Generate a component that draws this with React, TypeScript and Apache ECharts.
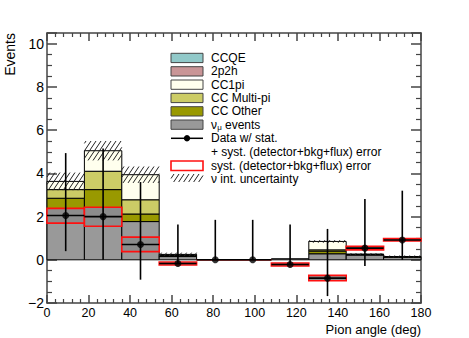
import React, { useEffect, useRef } from 'react';
import * as echarts from 'echarts';

const binEdges = [0, 18, 36, 54, 72, 90, 108, 126, 144, 162, 180];
const binCenters = [9, 27, 45, 63, 81, 99, 117, 135, 153, 171];

// stacked MC components (bottom to top)
const numuEvents = [2.35, 2.4, 1.77, 0.15, 0, 0, 0.05, 0.28, 0.22, 0.12];
const ccOther = [0.5, 0.85, 0.35, 0.04, 0, 0, 0, 0.12, 0.03, 0.02];
const ccMultiPi = [0.4, 0.85, 0.66, 0.03, 0, 0, 0, 0.06, 0.01, 0.01];
const cc1pi = [0.38, 0.95, 1.16, 0.03, 0, 0, 0, 0.39, 0, 0];
const twoP2h = [0, 0, 0, 0, 0, 0, 0, 0, 0, 0];
const ccqe = [0, 0, 0, 0, 0, 0, 0, 0, 0, 0];
const nuIntUnc = [0.41, 0.45, 0.38, 0.08, 0, 0, 0.01, 0.06, 0.05, 0.05];

// data
const dataValues = [2.05, 2.0, 0.71, -0.17, 0, 0, -0.22, -0.85, 0.54, 0.92];
const dataErrHigh = [4.94, 5.15, 3.6, 1.63, 1.85, 1.85, 1.63, 1.43, 2.82, 3.2];
const dataErrLow = [0.4, 0.0, -0.92, -0.17, 0, 0, -0.22, -1.68, -0.29, 0.0];
const systLow = [1.7, 1.55, 0.38, -0.24, 0, 0, -0.29, -0.97, 0.46, 0.87];
const systHigh = [2.38, 2.43, 1.05, -0.1, 0, 0, -0.15, -0.72, 0.62, 0.98];

const legendLabels = [
  'CCQE',
  '2p2h',
  'CC1pi',
  'CC Multi-pi',
  'CC Other',
];

const COLORS = {
  ccqe: '#91c9c9',
  twoP2h: '#c99597',
  cc1pi: '#ffffee',
  multi: '#cccc66',
  other: '#999900',
  numu: '#999999',
};

const FONT = '"Liberation Sans", Arial, Helvetica, sans-serif';

function hatchLines(x0: number, y0: number, x1: number, y1: number, hStep: number) {
  // lines k*x + y = s, clipped to rect
  const k = 1.5;
  const step = hStep * k;
  const lines: any[] = [];
  const sMin = Math.ceil((k * x0 + y0) / step) * step;
  for (let s = sMin; s <= k * x1 + y1; s += step) {
    const xa = Math.max(x0, (s - y1) / k);
    const xb = Math.min(x1, (s - y0) / k);
    if (xb - xa > 0.3) {
      lines.push({
        type: 'line',
        shape: { x1: xa, y1: s - k * xa, x2: xb, y2: s - k * xb },
        style: { stroke: '#222', lineWidth: 1 },
      });
    }
  }
  return lines;
}

export default function App() {
  const ref = useRef<HTMLDivElement>(null);

  useEffect(() => {
    if (!ref.current) return;
    const chart = echarts.init(ref.current, undefined, { renderer: 'svg' });

    const comps = [
      { vals: numuEvents, color: COLORS.numu },
      { vals: ccOther, color: COLORS.other },
      { vals: ccMultiPi, color: COLORS.multi },
      { vals: cc1pi, color: COLORS.cc1pi },
      { vals: twoP2h, color: COLORS.twoP2h },
      { vals: ccqe, color: COLORS.ccqe },
    ];
    const cum = binCenters.map(() => 0);
    const stackSeries = comps.map((c, ci) => {
      const data = c.vals.map((v, i) => {
        const lo = cum[i];
        cum[i] = lo + v;
        return [binEdges[i], binEdges[i + 1], lo, lo + v];
      });
      return {
        type: 'custom',
        name: 'stack' + ci,
        z: 2,
        encode: { x: [0, 1], y: [2, 3] },
        data,
        renderItem: (params: any, api: any) => {
          const p0 = api.coord([api.value(0), api.value(3)]);
          const p1 = api.coord([api.value(1), api.value(2)]);
          if (api.value(3) - api.value(2) <= 0 && ci > 0) return null;
          return {
            type: 'rect',
            shape: { x: p0[0], y: p0[1], width: p1[0] - p0[0], height: p1[1] - p0[1] },
            style: { fill: c.color, stroke: '#000', lineWidth: 1 },
          };
        },
      };
    });
    const totals = cum.slice();

    const hatchData = totals.map((t, i) => [binEdges[i], binEdges[i + 1], t - nuIntUnc[i], t + nuIntUnc[i]]).filter((d, i) => nuIntUnc[i] > 0);

    const hatchSeries = {
      type: 'custom',
      name: 'hatch',
      z: 3,
      encode: { x: [0, 1], y: [2, 3] },
      data: hatchData,
      renderItem: (params: any, api: any) => {
        const p0 = api.coord([api.value(0), api.value(3)]);
        const p1 = api.coord([api.value(1), api.value(2)]);
        return { type: 'group', children: hatchLines(p0[0], p0[1], p1[0], p1[1], 5) };
      },
    };

    const systSeries = {
      type: 'custom',
      name: 'syst',
      z: 4,
      encode: { x: [0, 1], y: [2, 3] },
      data: systLow.map((l, i) => [binEdges[i], binEdges[i + 1], l, systHigh[i]]),
      renderItem: (params: any, api: any) => {
        const p0 = api.coord([api.value(0), api.value(3)]);
        const p1 = api.coord([api.value(1), api.value(2)]);
        return {
          type: 'rect',
          shape: { x: p0[0], y: p0[1], width: p1[0] - p0[0], height: p1[1] - p0[1] },
          style: { fill: '#8c8c8c', stroke: '#ff1010', lineWidth: 1.6 },
        };
      },
    };

    const errSeries = {
      type: 'custom',
      name: 'err',
      z: 5,
      encode: { x: [0, 1, 2], y: [3, 4, 5] },
      data: dataValues.map((v, i) => [binEdges[i], binEdges[i + 1], binCenters[i], v, dataErrLow[i], dataErrHigh[i]]),
      renderItem: (params: any, api: any) => {
        const a = api.coord([api.value(0), api.value(3)]);
        const b = api.coord([api.value(1), api.value(3)]);
        const lo = api.coord([api.value(2), api.value(4)]);
        const hi = api.coord([api.value(2), api.value(5)]);
        return {
          type: 'group',
          children: [
            { type: 'line', shape: { x1: a[0], y1: a[1], x2: b[0], y2: b[1] }, style: { stroke: '#000', lineWidth: 1.6 } },
            { type: 'line', shape: { x1: lo[0], y1: lo[1], x2: hi[0], y2: hi[1] }, style: { stroke: '#000', lineWidth: 1.6 } },
          ],
        };
      },
    };

    const pointSeries = {
      type: 'scatter',
      name: 'data',
      z: 6,
      symbol: 'circle',
      symbolSize: 7,
      itemStyle: { color: '#000' },
      data: dataValues.map((v, i) => [binCenters[i], v]),
    };

    // legend graphics
    const sx = 171, sw = 32, sh = 9.3, tx = 211;
    const rowY = [53.3, 66.7, 80, 93.3, 106.7, 120];
    const swColors = [COLORS.ccqe, COLORS.twoP2h, COLORS.cc1pi, COLORS.multi, COLORS.other, COLORS.numu];
    const g: any[] = [];
    rowY.forEach((y, i) => {
      g.push({ type: 'rect', shape: { x: sx, y, width: sw, height: sh }, style: { fill: swColors[i], stroke: '#444', lineWidth: 1 } });
      if (i < 5) {
        g.push({ type: 'text', x: tx, y: y + sh / 2, style: { text: legendLabels[i], font: `12px ${FONT}`, fill: '#000', verticalAlign: 'middle' } });
      }
    });
    const ny = 120 + sh / 2;
    g.push({ type: 'text', x: tx, y: ny, style: { text: 'ν', font: `12px ${FONT}`, fill: '#000', verticalAlign: 'middle' } });
    g.push({ type: 'text', x: tx + 6.3, y: ny + 3, style: { text: 'μ', font: `8px ${FONT}`, fill: '#000', verticalAlign: 'middle' } });
    g.push({ type: 'text', x: tx + 14, y: ny, style: { text: 'events', font: `12px ${FONT}`, fill: '#000', verticalAlign: 'middle' } });
    const dy = 138.3;
    g.push({ type: 'line', shape: { x1: sx, y1: dy, x2: sx + sw, y2: dy }, style: { stroke: '#000', lineWidth: 1.5 } });
    g.push({ type: 'circle', shape: { cx: sx + sw / 2, cy: dy, r: 3.2 }, style: { fill: '#000' } });
    g.push({ type: 'text', x: tx, y: dy, style: { text: 'Data w/ stat.', font: `12px ${FONT}`, fill: '#000', verticalAlign: 'middle' } });
    g.push({ type: 'text', x: tx, y: dy + 13.3, style: { text: '+ syst. (detector+bkg+flux) error', font: `12px ${FONT}`, fill: '#000', verticalAlign: 'middle' } });
    g.push({ type: 'rect', shape: { x: sx, y: 161, width: sw, height: 9.5 }, style: { fill: '#fff', stroke: '#ff1010', lineWidth: 1.6 } });
    g.push({ type: 'text', x: tx, y: 165.5, style: { text: 'syst. (detector+bkg+flux) error', font: `12px ${FONT}`, fill: '#000', verticalAlign: 'middle' } });
    hatchLines(sx, 174, sx + sw, 182, 5).forEach((l) => g.push(l));
    g.push({ type: 'text', x: tx, y: 178.5, style: { text: 'ν int. uncertainty', font: `12px ${FONT}`, fill: '#000', verticalAlign: 'middle' } });

    // axis titles
    g.push({ type: 'text', x: 421, y: 329, style: { text: 'Pion angle (deg)', font: `13px ${FONT}`, fill: '#000', align: 'right', verticalAlign: 'middle' } });
    g.push({ type: 'text', x: 10, y: 33, rotation: Math.PI / 2, style: { text: 'Events', font: `14px ${FONT}`, fill: '#000', align: 'right', verticalAlign: 'middle' } });

    const axisLineStyle = { color: '#444', width: 1.5 };
    const yFmt = (v: number) => (Math.abs(v % 2) > 1e-6 ? '' : v < 0 ? '\u2212' + Math.abs(v) : String(v));

    const option: any = {
      animation: false,
      grid: { left: 47, right: 48, top: 33, bottom: 35, containLabel: false },
      xAxis: [
        {
          type: 'value', min: 0, max: 180, interval: 20, position: 'bottom',
          axisLine: { show: true, onZero: false, lineStyle: axisLineStyle },
          axisTick: { show: true, inside: true, length: 8, lineStyle: axisLineStyle },
          minorTick: { show: true, splitNumber: 5, length: 4, lineStyle: { color: '#444', width: 1.2 } },
          axisLabel: { fontSize: 12.5, color: '#000', margin: 3, fontFamily: FONT },
          splitLine: { show: false },
        },
        {
          type: 'value', min: 0, max: 180, interval: 20, position: 'top',
          axisLine: { show: true, onZero: false, lineStyle: axisLineStyle },
          axisTick: { show: true, inside: true, length: 8, lineStyle: axisLineStyle },
          minorTick: { show: true, splitNumber: 5, length: 4, lineStyle: { color: '#444', width: 1.2 } },
          axisLabel: { show: false },
          splitLine: { show: false },
        },
      ],
      yAxis: [
        {
          type: 'value', min: -2, max: 10.5, interval: 2, position: 'left',
          axisLine: { show: true, onZero: false, lineStyle: axisLineStyle },
          axisTick: { show: true, inside: true, length: 10, lineStyle: axisLineStyle },
          minorTick: { show: true, splitNumber: 4, length: 5, lineStyle: { color: '#444', width: 1.2 } },
          axisLabel: { fontSize: 14, color: '#000', margin: 3, fontFamily: FONT, formatter: yFmt },
          splitLine: { show: false },
        },
        {
          type: 'value', min: -2, max: 10.5, interval: 2, position: 'right',
          axisLine: { show: true, onZero: false, lineStyle: axisLineStyle },
          axisTick: { show: true, inside: true, length: 10, lineStyle: axisLineStyle },
          minorTick: { show: true, splitNumber: 4, length: 5, lineStyle: { color: '#444', width: 1.2 } },
          axisLabel: { show: false },
          splitLine: { show: false },
        },
      ],
      series: [...stackSeries, hatchSeries, systSeries, errSeries, pointSeries],
      graphic: { elements: g },
    };
    chart.setOption(option);
    return () => chart.dispose();
  }, []);

  return <div ref={ref} style={{ width: 469, height: 338, position: 'absolute', left: 0, top: 0, background: '#fff' }} />;
}
